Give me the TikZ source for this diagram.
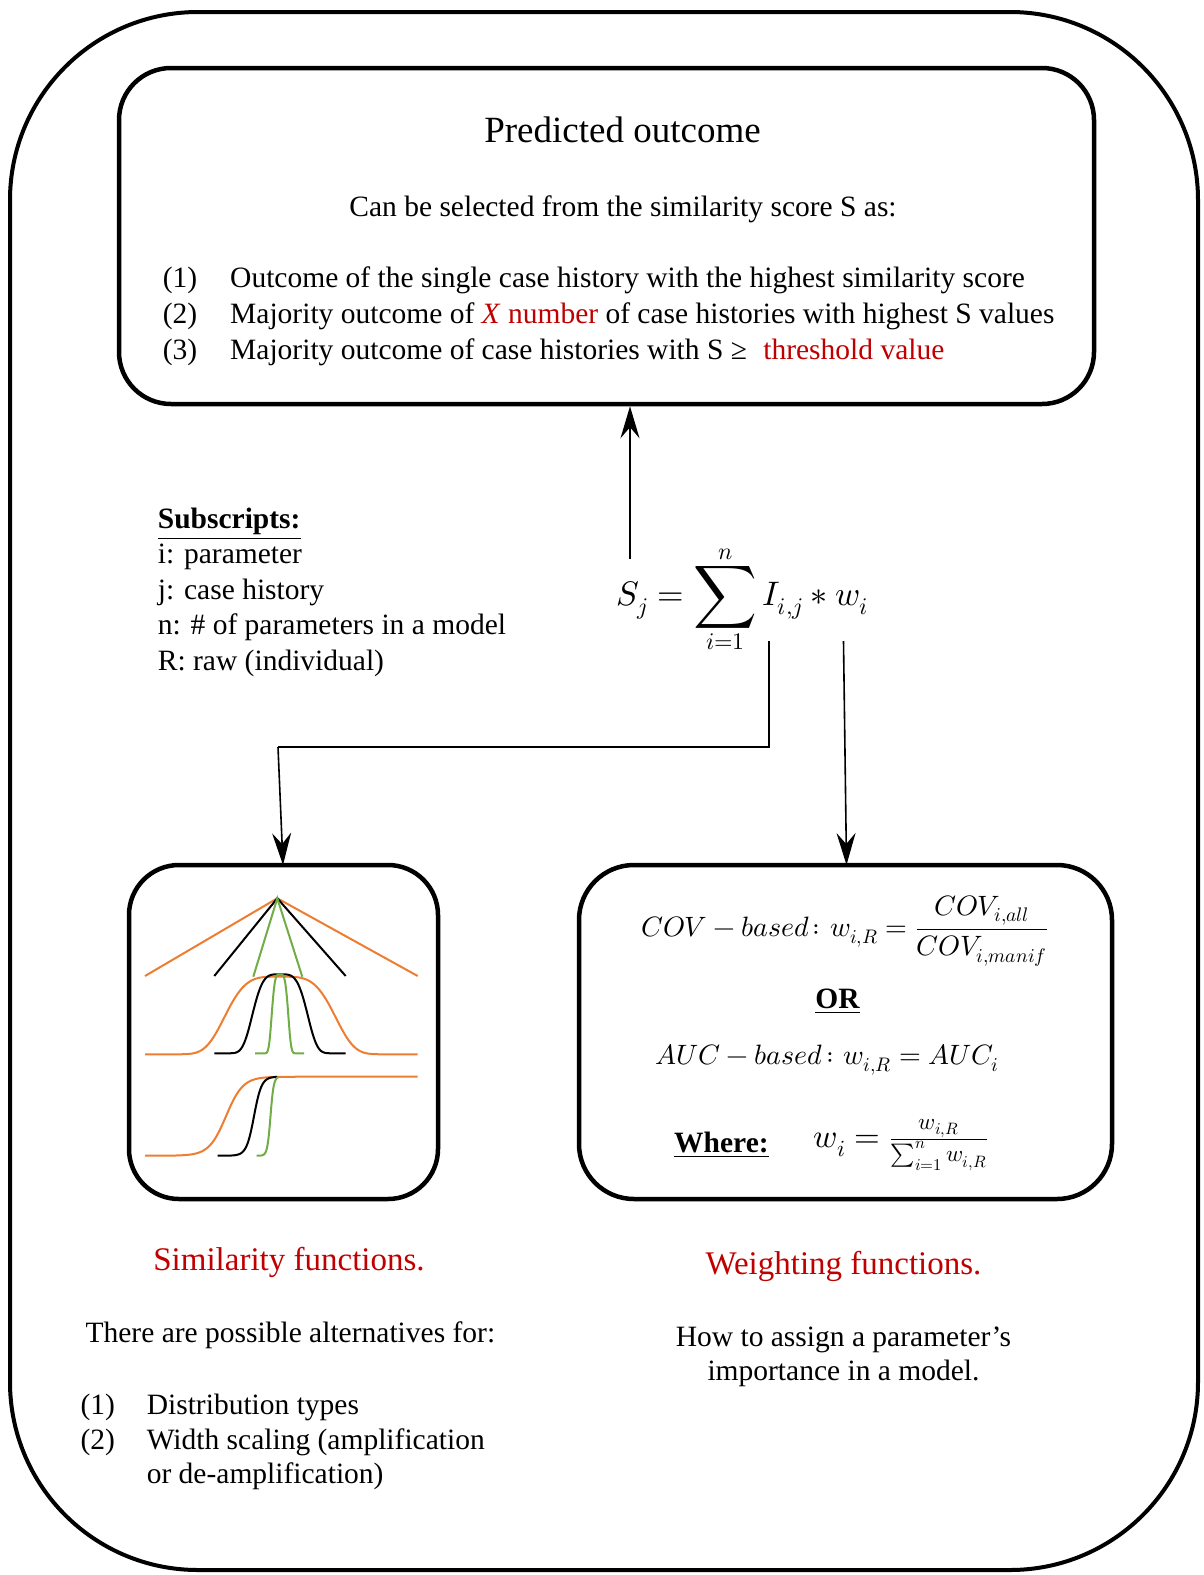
\documentclass[tikz,border=0pt]{standalone}
\usepackage{graphicx}
\usepackage{fontspec}
\usepackage{unicode-math}
\setmainfont{Liberation Serif}
\usetikzlibrary{arrows.meta}
\definecolor{dred}{HTML}{C00000}
\definecolor{orng}{HTML}{ED7D31}
\definecolor{grn}{HTML}{70AD47}
\begin{document}
\begin{tikzpicture}[x=1pt,y=-1pt,
  box/.style={draw, line width=4.5pt, rounded corners=#1, inner sep=0pt},
  arr/.style={line width=1.6pt, -{Stealth[length=32pt,width=19pt,inset=11pt]}},
  conn/.style={line width=1.6pt},
  body/.style={font=\fontsize{29.5}{36}\selectfont, inner sep=0pt},
  head/.style={font=\fontsize{33}{40}\selectfont, inner sep=0pt, text=dred},
  mth/.style={font=\fontsize{#1}{#1}\selectfont, inner sep=0pt},
  curve/.style={line width=2pt},
  declare function={gq(\t)=(\t*\t)*(\t*\t);
    lg(\t)=exp(min(\t,0))/(exp(min(\t,0))+exp(-max(\t,0)));}
]
\useasboundingbox (0,0) rectangle (1203,1575);
% outer frame
\draw[line width=4pt, rounded corners=188pt] (10,12) rectangle (1198,1570);

% top box
\node[box=52pt, minimum width=975pt, minimum height=336pt] (top) at (606.5,236) {};
\node[body, font=\fontsize{37}{40}\selectfont, anchor=base] (title) at (622.5,142) {Predicted outcome};
\node[body, anchor=base] (sel) at (623,216) {Can be selected from the similarity score S as:};
\node[body, anchor=base west] (n1) at (162.7,287) {(1)};
\node[body, anchor=base west] (t1) at (230,287) {Outcome of the single case history with the highest similarity score};
\node[body, anchor=base west] (n2) at (162.7,323) {(2)};
\node[body, anchor=base west] (t2) at (230,323) {Majority outcome of \textcolor{dred}{\textit{X} number} of case histories with highest S values};
\node[body, anchor=base west] (n3) at (162.7,359) {(3)};
\node[body, anchor=base west] (t3) at (230,359) {Majority outcome of case histories with S ≥\hspace{9pt} \textcolor{dred}{threshold value}};

% subscripts
\node[body, anchor=base west] (sub) at (157.7,528) {\textbf{\underline{Subscripts:}}};
\node[body, anchor=base west] (s1) at (157.7,563.5) {i: parameter};
\node[body, anchor=base west] (s2) at (157.7,599) {j: case history};
\node[body, anchor=base west] (s3) at (157.7,634.5) {n: \# of parameters in a model};
\node[body, anchor=base west] (s4) at (157.7,670) {R: raw (individual)};

% main formula
\node[mth=34] (formula) at (742.6,599.5) {$\displaystyle S_j=\mathop{\vcenter{\hbox{\scalebox{1.3}{$\displaystyle\sum$}}}}\limits_{i=1}^{n} I_{i,j} * w_i$};

% bottom boxes
\node[box=50pt, minimum width=309pt, minimum height=334pt] (sim) at (283.5,1032) {};
\node[box=55pt, minimum width=533pt, minimum height=334pt] (wgt) at (845.5,1032) {};

% connectors
\coordinate (a0) at (630,559);
\draw[arr] (a0) -- (a0 |- top.south);
\coordinate (b0) at (769,641);
\coordinate (b1) at (769,747);
\coordinate (b2) at (278,747);
\coordinate (b3) at (283,865);
\draw[conn] (b0) -- (b1) -- (b2);
\draw[arr] (b2) -- (b3);
\coordinate (c0) at (843.5,641);
\coordinate (c1) at (846.5,865);
\draw[arr] (c0) -- (c1);

% similarity curves
\coordinate (apex) at (277.3,898.3);
\draw[curve, orng] (145,976) -- (apex) -- (417.7,976);
\draw[curve, black] (214.3,976) -- (apex) -- (345.7,976);
\draw[curve, grn] (253.3,976.7) -- (apex) -- (302.3,976.7);
\draw[curve, orng] plot[domain=145:417.7, samples=160, smooth] (\x,{1054.3-77.6*exp(-gq((\x-280)/60))});
\draw[curve, black] plot[domain=214.3:345.7, samples=120, smooth] (\x,{1053.3-79*exp(-gq((\x-280)/30))});
\draw[curve, grn] plot[domain=255:304, samples=80, smooth] (\x,{1053.3-79*exp(-gq((\x-280)/9))});
\draw[curve, orng] plot[domain=145:417.7, samples=160, smooth] (\x,{1155.7-79*lg((\x-226)/8.5)});
\draw[curve, black] plot[domain=217.7:277, samples=80, smooth] (\x,{1155.7-79*lg((\x-254)/3.8)});
\draw[curve, grn] plot[domain=256.7:278.5, samples=60, smooth] (\x,{1155.7-79*lg((\x-270.5)/1.6)});

% weighting box content
\node[mth=28] (cov) at (844.5,931) {$COV-based\colon w_{i,R}=\dfrac{COV_{i,all}}{COV_{i,manif}}$};
\node[body, anchor=base] (or) at (837.5,1008) {\textbf{\underline{OR}}};
\node[mth=28] (auc) at (827,1059.5) {$AUC-based\colon w_{i,R}=AUC_i$};
\node[body, anchor=base west] (where) at (674,1152) {\textbf{\underline{Where:}}};
\node[mth=33] (wi) at (900.7,1145) {$w_i=\frac{w_{i,R}}{\sum_{i=1}^{n} w_{i,R}}$};

% bottom texts
\node[head, anchor=base] (simh) at (289,1270) {Similarity functions.};
\node[body, anchor=base west] (alt) at (85.4,1342) {There are possible alternatives for:};
\node[body, anchor=base west] (d1n) at (80.3,1414) {(1)};
\node[body, anchor=base west] (d1) at (146.6,1414) {Distribution types};
\node[body, anchor=base west] (d2n) at (80.3,1449) {(2)};
\node[body, anchor=base west] (d2) at (146.6,1449) {Width scaling (amplification};
\node[body, anchor=base west] (d3) at (146.6,1483) {or de-amplification)};
\node[head, anchor=base] (wh) at (843.5,1274) {Weighting functions.};
\node[body, anchor=base] (h1) at (843.5,1346) {How to assign a parameter’s};
\node[body, anchor=base] (h2) at (843.5,1380) {importance in a model.};
\end{tikzpicture}
\end{document}
